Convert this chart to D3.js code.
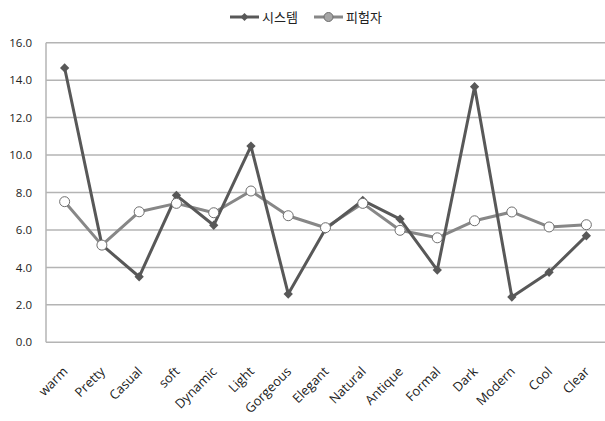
<!DOCTYPE html>
<html><head><meta charset="utf-8">
<script src="https://cdn.jsdelivr.net/npm/d3@7"></script>
<style>body{margin:0;background:#fff}svg{display:block}</style>
</head><body>
<svg id="c" width="605" height="421"></svg>
<script>
const categories = ["warm","Pretty","Casual","soft","Dynamic","Light","Gorgeous","Elegant","Natural","Antique","Formal","Dark","Modern","Cool","Clear"];
const systemValues = [14.65,5.2,3.5,7.85,6.25,10.48,2.58,6.05,7.58,6.58,3.86,13.65,2.42,3.74,5.69];
const subjectValues = [7.51,5.19,6.97,7.42,6.92,8.08,6.76,6.12,7.42,5.98,5.58,6.49,6.96,6.16,6.28];
const seriesNames = ["시스템","피험자"];
const yTicks = [0,2,4,6,8,10,12,14,16];

(function(){
const svg = d3.select("#c");
const pLeft = 46, pRight = 605, pTop = 42.7, pBottom = 342.3;
const x = d3.scaleBand().domain(categories).range([pLeft, pRight]);
const y = d3.scaleLinear().domain([0,16]).range([pBottom, pTop]);
const cx = d => x(d) + x.bandwidth()/2;
const font = "'Open Sans', 'Noto Sans CJK KR', sans-serif";

svg.append("g").selectAll("line").data(yTicks).join("line")
  .attr("x1", pLeft).attr("x2", pRight)
  .attr("y1", d => y(d)).attr("y2", d => y(d))
  .attr("stroke", "#b4b4b4").attr("stroke-width", 1.5);
svg.append("line").attr("x1", pLeft).attr("x2", pLeft).attr("y1", pTop).attr("y2", pBottom)
  .attr("stroke", "#b4b4b4").attr("stroke-width", 1.5);

const yAxis = d3.axisLeft(y).tickValues(yTicks).tickFormat(d3.format(".1f")).tickSize(0).tickPadding(8);
const gy = svg.append("g").attr("transform", `translate(${pLeft},0)`).call(yAxis);
gy.select(".domain").remove();
gy.selectAll("text").attr("font-family", font).attr("font-size", 11.5).attr("fill", "#222").attr("x", -14);

const xAxis = d3.axisBottom(x).tickSize(0).tickPadding(0);
const gx = svg.append("g").attr("transform", `translate(0,${pBottom})`).call(xAxis);
gx.select(".domain").remove();
gx.selectAll("text")
  .attr("font-family", font).attr("font-size", 13).attr("fill", "#222")
  .attr("text-anchor", "end").attr("dy", 0)
  .attr("transform", "translate(4,30) rotate(-45)");

const line = d3.line().x((d,i) => cx(categories[i])).y(d => y(d));

svg.append("path").datum(subjectValues).attr("d", line)
  .attr("fill", "none").attr("stroke", "#878787").attr("stroke-width", 3).attr("stroke-linejoin", "round");
svg.append("path").datum(systemValues).attr("d", line)
  .attr("fill", "none").attr("stroke", "#585858").attr("stroke-width", 3).attr("stroke-linejoin", "round");

const diamond = d3.symbol().type(d3.symbolDiamond2).size(55);
svg.append("g").selectAll("path").data(systemValues).join("path")
  .attr("d", diamond)
  .attr("transform", (d,i) => `translate(${cx(categories[i])},${y(d)})`)
  .attr("fill", "#585858");

svg.append("g").selectAll("circle").data(subjectValues).join("circle")
  .attr("cx", (d,i) => cx(categories[i])).attr("cy", d => y(d)).attr("r", 5)
  .attr("fill", "#fff").attr("stroke", "#6e6e6e").attr("stroke-width", 1);

const lg = svg.append("g");
lg.append("line").attr("x1", 230).attr("x2", 259).attr("y1", 17).attr("y2", 17).attr("stroke", "#585858").attr("stroke-width", 3);
lg.append("path").attr("d", d3.symbol().type(d3.symbolDiamond2).size(40)).attr("transform", "translate(244.5,17)").attr("fill", "#585858");
lg.append("text").attr("x", 262).attr("y", 17).attr("dy", "0.35em").attr("font-family", font).attr("font-size", 13).attr("fill", "#222").text(seriesNames[0]);
lg.append("line").attr("x1", 314).attr("x2", 343).attr("y1", 17).attr("y2", 17).attr("stroke", "#878787").attr("stroke-width", 3);
lg.append("circle").attr("cx", 328.5).attr("cy", 17).attr("r", 4.5).attr("fill", "#a6a6a6").attr("stroke", "#6e6e6e");
lg.append("text").attr("x", 346).attr("y", 17).attr("dy", "0.35em").attr("font-family", font).attr("font-size", 13).attr("fill", "#222").text(seriesNames[1]);
})();
</script>
</body></html>
